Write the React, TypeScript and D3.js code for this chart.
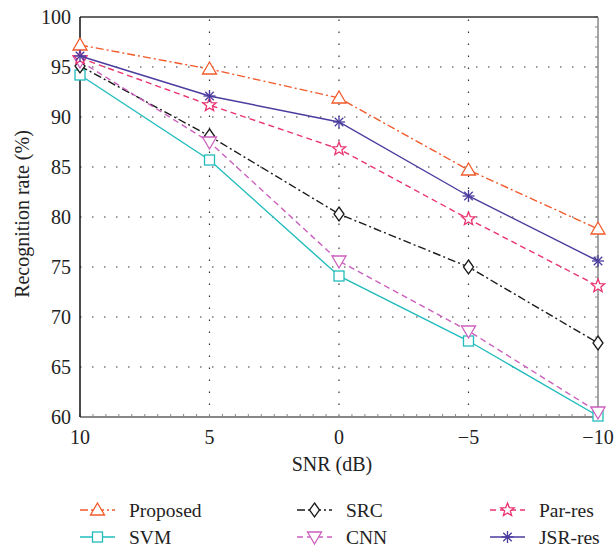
import React, { useEffect, useRef } from 'react';
import * as d3 from 'd3';

// SNR levels (dB)
const snr = [10, 5, 0, -5, -10];
const proposed = [97.2, 94.8, 91.9, 84.7, 78.8];
const svm = [94.2, 85.7, 74.1, 67.6, 60.1];
const src = [95.1, 88.1, 80.3, 75.0, 67.4];
const cnn = [95.6, 87.5, 75.6, 68.6, 60.5];
const parRes = [95.9, 91.2, 86.8, 79.8, 73.1];
const jsrRes = [96.1, 92.1, 89.5, 82.1, 75.6];
const yTicks = [60, 65, 70, 75, 80, 85, 90, 95, 100];

const series = [
  { name: 'Proposed', vals: proposed, color: '#f15a2b', dash: '8,3,2,3', marker: 'triUp' },
  { name: 'SVM', vals: svm, color: '#22bcbc', dash: null, marker: 'square' },
  { name: 'SRC', vals: src, color: '#1a1a1a', dash: '8,3,2,3', marker: 'diamond' },
  { name: 'CNN', vals: cnn, color: '#cc5fbe', dash: '6,4', marker: 'triDown' },
  { name: 'Par-res', vals: parRes, color: '#ea3470', dash: '6,4', marker: 'star' },
  { name: 'JSR-res', vals: jsrRes, color: '#4a3b9e', dash: null, marker: 'asterisk' },
];

function drawMarker(g: any, type: string, cx: number, cy: number, color: string) {
  if (type === 'triUp') {
    g.append('path').attr('d', `M${cx},${cy - 7}L${cx + 7},${cy + 5}L${cx - 7},${cy + 5}Z`)
      .attr('fill', 'white').attr('stroke', color).attr('stroke-width', 1.3);
  } else if (type === 'triDown') {
    g.append('path').attr('d', `M${cx},${cy + 7}L${cx + 7},${cy - 5}L${cx - 7},${cy - 5}Z`)
      .attr('fill', 'white').attr('stroke', color).attr('stroke-width', 1.3);
  } else if (type === 'square') {
    g.append('rect').attr('x', cx - 5).attr('y', cy - 5).attr('width', 10).attr('height', 10)
      .attr('fill', 'white').attr('stroke', color).attr('stroke-width', 1.3);
  } else if (type === 'diamond') {
    g.append('path').attr('d', `M${cx},${cy - 7}L${cx + 5},${cy}L${cx},${cy + 7}L${cx - 5},${cy}Z`)
      .attr('fill', 'white').attr('stroke', color).attr('stroke-width', 1.3);
  } else if (type === 'star') {
    const pts: string[] = [];
    for (let i = 0; i < 10; i++) {
      const r = i % 2 === 0 ? 7 : 3;
      const a = -Math.PI / 2 + (i * Math.PI) / 5;
      pts.push(`${cx + r * Math.cos(a)},${cy + r * Math.sin(a)}`);
    }
    g.append('path').attr('d', 'M' + pts.join('L') + 'Z')
      .attr('fill', 'white').attr('stroke', color).attr('stroke-width', 1.3);
  } else if (type === 'asterisk') {
    for (let i = 0; i < 4; i++) {
      const a = (i * Math.PI) / 4;
      g.append('line')
        .attr('x1', cx - 6 * Math.cos(a)).attr('y1', cy - 6 * Math.sin(a))
        .attr('x2', cx + 6 * Math.cos(a)).attr('y2', cy + 6 * Math.sin(a))
        .attr('stroke', color).attr('stroke-width', 1.3);
    }
  }
}

function App() {
  const ref = useRef<SVGSVGElement>(null);

  useEffect(() => {
    const svg = d3.select(ref.current);
    svg.selectAll('*').remove();

    const width = 614;
    const height = 549;
    const margin = { top: 17, left: 80, right: 16, bottom: 132 };
    const font = '"Liberation Serif", "DejaVu Serif", serif';

    const x = d3.scaleLinear().domain([10, -10]).range([margin.left, width - margin.right]);
    const y = d3.scaleLinear().domain([60, 100]).range([height - margin.bottom, margin.top]);

    const g = svg.append('g');

    // dotted grid
    yTicks.slice(1, -1).forEach(t => {
      g.append('line').attr('x1', x(10)).attr('x2', x(-10)).attr('y1', y(t)).attr('y2', y(t))
        .attr('stroke', '#333').attr('stroke-width', 1.2).attr('stroke-dasharray', '1.5,10.5');
    });
    snr.slice(1, -1).forEach(t => {
      g.append('line').attr('x1', x(t)).attr('x2', x(t)).attr('y1', y(60)).attr('y2', y(100))
        .attr('stroke', '#333').attr('stroke-width', 1.2).attr('stroke-dasharray', '1.5,10.5');
    });

    // minor ticks
    d3.range(10, -10.01, -0.5).forEach(t => {
      g.append('line').attr('x1', x(t)).attr('x2', x(t)).attr('y1', y(60)).attr('y2', y(60) - 3)
        .attr('stroke', '#888').attr('stroke-width', 1);
    });
    d3.range(60, 100.01, 1).forEach(t => {
      g.append('line').attr('x1', x(-10)).attr('x2', x(-10) - 3).attr('y1', y(t)).attr('y2', y(t))
        .attr('stroke', '#888').attr('stroke-width', 1);
    });

    // frame
    g.append('line').attr('x1', x(10)).attr('x2', x(-10)).attr('y1', y(100)).attr('y2', y(100))
      .attr('stroke', '#333').attr('stroke-width', 1.5);
    g.append('line').attr('x1', x(-10)).attr('x2', x(-10)).attr('y1', y(100)).attr('y2', y(60))
      .attr('stroke', '#888').attr('stroke-width', 1.5);
    g.append('line').attr('x1', x(10)).attr('x2', x(-10)).attr('y1', y(60)).attr('y2', y(60))
      .attr('stroke', '#888').attr('stroke-width', 2);
    g.append('line').attr('x1', x(10)).attr('x2', x(10)).attr('y1', y(100)).attr('y2', y(60))
      .attr('stroke', '#111').attr('stroke-width', 1.5);

    // tick labels
    yTicks.forEach(t => {
      g.append('text').attr('x', x(10) - 9).attr('y', y(t)).attr('dy', '0.35em')
        .attr('text-anchor', 'end').attr('font-family', font).attr('font-size', 20)
        .attr('fill', '#222').text(t);
    });
    snr.forEach(t => {
      g.append('text').attr('x', x(t)).attr('y', y(60) + 27)
        .attr('text-anchor', 'middle').attr('font-family', font).attr('font-size', 20)
        .attr('fill', '#222').text(t < 0 ? '\u2212' + Math.abs(t) : String(t));
    });

    g.append('text').attr('x', 332).attr('y', 471)
      .attr('text-anchor', 'middle').attr('font-family', font).attr('font-size', 20)
      .attr('fill', '#222').text('SNR (dB)');
    g.append('text').attr('transform', `translate(29,214) rotate(-90)`)
      .attr('text-anchor', 'middle').attr('font-family', font).attr('font-size', 20)
      .attr('fill', '#222').text('Recognition rate (%)');

    // lines and markers
    const line = d3.line<number>().x((d, i) => x(snr[i])).y(d => y(d));
    series.forEach(s => {
      g.append('path').attr('d', line(s.vals)).attr('fill', 'none')
        .attr('stroke', s.color).attr('stroke-width', 1.4)
        .attr('stroke-dasharray', s.dash);
      s.vals.forEach((v, i) => drawMarker(g, s.marker, x(snr[i]), y(v), s.color));
    });

    // legend
    const cols = [80, 297, 490];
    const rows = [510, 537];
    const order = [0, 2, 4, 1, 3, 5];
    order.forEach((si, k) => {
      const s = series[si];
      const lx = cols[k % 3];
      const ly = rows[Math.floor(k / 3)];
      g.append('line').attr('x1', lx).attr('x2', lx + 35).attr('y1', ly).attr('y2', ly)
        .attr('stroke', s.color).attr('stroke-width', 1.4).attr('stroke-dasharray', s.dash);
      drawMarker(g, s.marker, lx + 17.5, ly, s.color);
      g.append('text').attr('x', lx + 49).attr('y', ly).attr('dy', '0.35em')
        .attr('font-family', font).attr('font-size', 19.5).attr('fill', '#222').text(s.name);
    });
  }, []);

  return (
    <svg ref={ref} width={614} height={549} style={{ position: 'absolute', left: 0, top: 0, background: 'white' }} />
  );
}

export default App;
